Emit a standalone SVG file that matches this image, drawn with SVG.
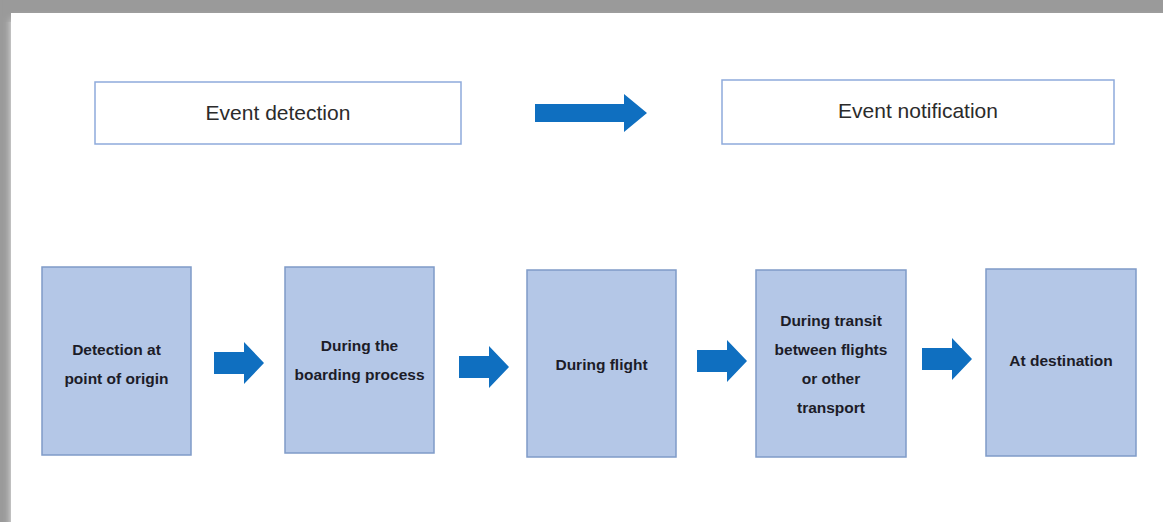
<svg xmlns="http://www.w3.org/2000/svg" width="1163" height="522" viewBox="0 0 1163 522">
  <defs>
    <filter id="sh" x="-5%" y="-5%" width="110%" height="110%">
      <feGaussianBlur stdDeviation="4"/>
    </filter>
    <path id="arrowSmall" d="M0,-11 H30 V-21 L50,0 L30,21 V11 H0 Z"/>
  </defs>
  <style>
    .top { fill: #ffffff; stroke: #8eaadb; stroke-width: 1.5; }
    .step { fill: #b4c7e7; stroke: #7f9bc8; stroke-width: 1.5; }
    .arr { fill: #0f6fc0; }
    .t1 { font-family: "Liberation Sans", Arial, sans-serif; font-size: 21px; fill: #2b2b2b; text-anchor: middle; }
    .t2 { font-family: "Liberation Sans", Arial, sans-serif; font-size: 15.5px; font-weight: bold; fill: #1c1c28; text-anchor: middle; }
  </style>
  <rect x="0" y="0" width="1163" height="522" fill="#ffffff"/>
  <rect x="-10" y="-10" width="1190" height="30" fill="#9a9a9a" filter="url(#sh)"/>
  <rect x="-10" y="-10" width="22" height="560" fill="#9a9a9a" filter="url(#sh)"/>
  <rect x="11" y="13" width="1170" height="530" fill="#ffffff"/>

  <g id="node-event-detection">
    <rect class="top" x="95" y="82" width="366" height="62"/>
    <text class="t1" x="278" y="120">Event detection</text>
  </g>
  <g id="node-event-notification">
    <rect class="top" x="722" y="80" width="392" height="64"/>
    <text class="t1" x="918" y="118">Event notification</text>
  </g>

  <g id="node-origin">
    <rect class="step" x="42" y="267" width="149" height="188"/>
    <text class="t2" x="116.5" y="355">Detection at</text>
    <text class="t2" x="116.5" y="384">point of origin</text>
  </g>
  <g id="node-boarding">
    <rect class="step" x="285" y="267" width="149" height="186"/>
    <text class="t2" x="359.5" y="351">During the</text>
    <text class="t2" x="359.5" y="380">boarding process</text>
  </g>
  <g id="node-flight">
    <rect class="step" x="527" y="270" width="149" height="187"/>
    <text class="t2" x="601.5" y="370">During flight</text>
  </g>
  <g id="node-transit">
    <rect class="step" x="756" y="270" width="150" height="187"/>
    <text class="t2" x="831" y="326">During transit</text>
    <text class="t2" x="831" y="355">between flights</text>
    <text class="t2" x="831" y="384">or other</text>
    <text class="t2" x="831" y="413">transport</text>
  </g>
  <g id="node-destination">
    <rect class="step" x="986" y="269" width="150" height="187"/>
    <text class="t2" x="1061" y="366">At destination</text>
  </g>

  <g id="connectors">
    <path class="arr" d="M535,104 H624 V94 L647,113 L624,132 V122 H535 Z"/>
    <use href="#arrowSmall" class="arr" x="214" y="363"/>
    <use href="#arrowSmall" class="arr" x="459" y="367"/>
    <use href="#arrowSmall" class="arr" x="697" y="361"/>
    <use href="#arrowSmall" class="arr" x="922" y="359"/>
  </g>
</svg>
